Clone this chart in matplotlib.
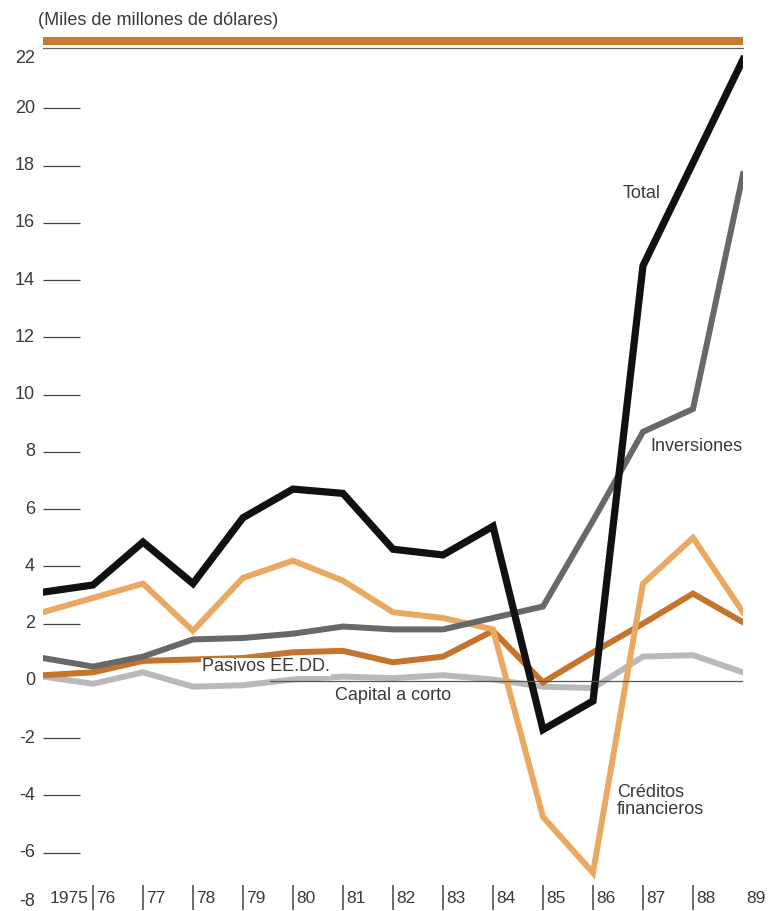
import numpy as np
import matplotlib
matplotlib.use("Agg")
import matplotlib.pyplot as plt
from matplotlib.patches import Rectangle

plt.rcParams["font.family"] = ["Liberation Sans", "DejaVu Sans"]

years       = [1975, 1976, 1977, 1978, 1979, 1980, 1981, 1982, 1983, 1984, 1985, 1986, 1987, 1988, 1989]
total       = [3.1, 3.35, 4.85, 3.4, 5.7, 6.7, 6.55, 4.6, 4.4, 5.4, -1.7, -0.7, 14.5, 18.1, 21.7]
inversiones = [0.8, 0.5, 0.85, 1.45, 1.5, 1.65, 1.9, 1.8, 1.8, 2.2, 2.6, 5.6, 8.7, 9.5, 17.7]
creditos    = [2.4, 2.9, 3.4, 1.75, 3.6, 4.2, 3.5, 2.4, 2.2, 1.8, -4.75, -6.7, 3.4, 5.0, 2.4]
pasivos     = [0.2, 0.3, 0.7, 0.75, 0.8, 1.0, 1.05, 0.65, 0.85, 1.75, -0.05, 1.0, 2.0, 3.05, 2.05]
capital     = [0.15, -0.1, 0.3, -0.2, -0.15, 0.05, 0.15, 0.1, 0.2, 0.05, -0.2, -0.25, 0.85, 0.9, 0.3]

year_labels = ["1975", "76", "77", "78", "79", "80", "81", "82", "83", "84", "85", "86", "87", "88", "89"]
y_ticks     = [-6, -4, -2, 2, 4, 6, 8, 10, 12, 14, 16, 18, 20]
y_labels    = [-8, -6, -4, -2, 0, 2, 4, 6, 8, 10, 12, 14, 16, 18, 20, 22]

W, H = 769, 911
fig = plt.figure(figsize=(W / 100, H / 100), dpi=100)
ax = fig.add_axes([43 / W, 1 / H, 700 / W, 859 / H])
ax.set_xlim(1975, 1989)
ax.set_ylim(-8, 22)
ax.set_axis_off()

txt = "#3a3a3a"

# series, lightest first so Total ends on top
ax.plot(years, capital, color="#b9b9b9", lw=4.3, solid_joinstyle="miter", zorder=2)
ax.plot(years, pasivos, color="#c4742c", lw=4.3, solid_joinstyle="miter", zorder=3)
ax.plot(years, creditos, color="#e9a962", lw=4.3, solid_joinstyle="miter", zorder=3)
ax.plot(years, inversiones, color="#686868", lw=4.3, solid_joinstyle="miter", zorder=4)
ax.plot(years, total, color="#111111", lw=5.2, solid_joinstyle="miter", zorder=5)

# zero line
ax.plot([1979.54, 1989], [0, 0], color="#555555", lw=0.9, zorder=6)

# left tick bars
ax.hlines(y_ticks, 1975, 1975.74, color="#444444", lw=0.9)
for v in y_labels:
    yy = v
    if v == 22:
        yy = 21.75
    elif v == -8:
        yy = -7.7
    ax.text(1974.84, yy, str(v), ha="right", va="center", fontsize=13,
            color=txt, clip_on=False)

# year bars and labels
ax.vlines(years[1:-1], -8, -7.12, color="#444444", lw=1.1, clip_on=False)
for i, (yr, lab) in enumerate(zip(years, year_labels)):
    dx = 0.14 if i == 0 else 0.07
    ax.text(yr + dx, -7.6, lab, ha="left", va="center", fontsize=12.5,
            color=txt, clip_on=False)

# header band
ax.add_patch(Rectangle((1975, 22.2), 14, 0.28, facecolor="#c77a33",
                       edgecolor="none", clip_on=False))
ax.plot([1975, 1989], [22.09, 22.09], color="#666666", lw=0.9, clip_on=False)
ax.text(1974.9, 23.07, "(Miles de millones de dólares)", ha="left", va="center",
        fontsize=13, color=txt, clip_on=False)

# series labels
ax.text(1986.6, 17.03, "Total", ha="left", va="center", fontsize=13, color=txt, zorder=7)
ax.text(1987.14, 8.17, "Inversiones", ha="left", va="center", fontsize=13, color=txt, zorder=7)
ax.text(1986.48, -4.2, "Créditos\nfinancieros", ha="left", va="center", fontsize=13,
        color=txt, linespacing=1.0, zorder=7)
ax.text(1978.18, 0.49, "Pasivos EE.DD.", ha="left", va="center", fontsize=13, color=txt,
        zorder=7, bbox=dict(facecolor="white", edgecolor="none", pad=0.5))
ax.text(1980.84, -0.5, "Capital a corto", ha="left", va="center", fontsize=13,
        color=txt, zorder=7)

fig.savefig("out.png", dpi=100)
